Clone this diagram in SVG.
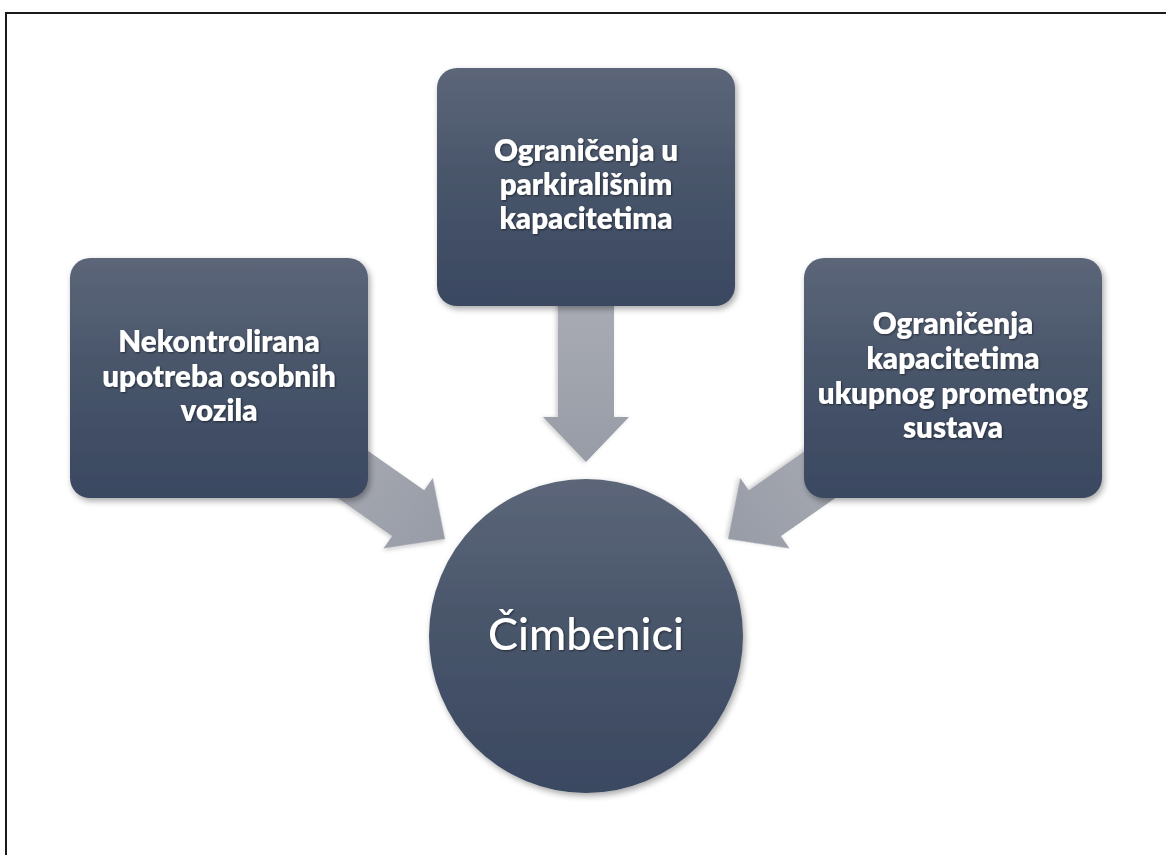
<svg xmlns="http://www.w3.org/2000/svg" width="1166" height="855" viewBox="0 0 1166 855">
  <defs>
    <linearGradient id="nodeGrad" x1="0" y1="0" x2="0" y2="1">
      <stop offset="0" stop-color="#5c6679"/>
      <stop offset="0.5" stop-color="#475469"/>
      <stop offset="1" stop-color="#3a4861"/>
    </linearGradient>
    <linearGradient id="arrowGrad" x1="0" y1="0" x2="1" y2="0">
      <stop offset="0" stop-color="#acafb7"/>
      <stop offset="1" stop-color="#989ca6"/>
    </linearGradient>
    <filter id="shadow" x="-20%" y="-20%" width="140%" height="140%">
      <feDropShadow dx="2" dy="3" stdDeviation="3" flood-color="#000" flood-opacity="0.35"/>
    </filter>
    <filter id="ashadow" x="-20%" y="-20%" width="140%" height="140%">
      <feDropShadow dx="1" dy="2" stdDeviation="2" flood-color="#000" flood-opacity="0.2"/>
    </filter>
    <filter id="tshadow" x="-10%" y="-20%" width="120%" height="140%">
      <feDropShadow dx="1" dy="1" stdDeviation="0.8" flood-color="#000" flood-opacity="0.5"/>
    </filter>
    <path id="arrowShape" d="M-200,-28 L-45,-28 L-45,-43 L0,0 L-45,43 L-45,28 L-200,28 Z"/>
  </defs>
  <style>
    .node { fill: url(#nodeGrad); filter: url(#shadow); }
    .arrow { fill: url(#arrowGrad); filter: url(#ashadow); }
    .lbl { font-family: Lato, "Open Sans", "Liberation Sans", sans-serif; font-weight: 800; font-size: 29.5px; fill: #ffffff; text-anchor: middle; filter: url(#tshadow); }
    .center { font-family: Lato, "Open Sans", "Liberation Sans", sans-serif; font-weight: 500; font-size: 45px; fill: #ffffff; text-anchor: middle; filter: url(#tshadow); }
  </style>
  <rect x="0" y="0" width="1166" height="855" fill="#ffffff"/>
  <rect x="6" y="13" width="1200" height="900" fill="none" stroke="#1a1a1a" stroke-width="2"/>

  <g id="connectors">
    <use href="#arrowShape" class="arrow" transform="translate(586,462) rotate(90)"/>
    <use href="#arrowShape" class="arrow" transform="translate(445,539) rotate(35)"/>
    <use href="#arrowShape" class="arrow" transform="translate(728,539) rotate(145)"/>
  </g>

  <g id="node-top">
    <rect class="node" x="437" y="68" width="298" height="238" rx="20" ry="20"/>
    <text class="lbl" x="586" y="161">Ograničenja u</text>
    <text class="lbl" x="586" y="195">parkirališnim</text>
    <text class="lbl" x="586" y="229">kapacitetima</text>
  </g>

  <g id="node-left">
    <rect class="node" x="70" y="258" width="298" height="240" rx="20" ry="20"/>
    <text class="lbl" x="219" y="352">Nekontrolirana</text>
    <text class="lbl" x="219" y="386.5">upotreba osobnih</text>
    <text class="lbl" x="219" y="421">vozila</text>
  </g>

  <g id="node-right">
    <rect class="node" x="804" y="258" width="298" height="240" rx="20" ry="20"/>
    <text class="lbl" x="953" y="334">Ograničenja</text>
    <text class="lbl" x="953" y="369">kapacitetima</text>
    <text class="lbl" x="953" y="403.5">ukupnog prometnog</text>
    <text class="lbl" x="953" y="438">sustava</text>
  </g>

  <g id="node-center">
    <circle class="node" cx="586" cy="636" r="157"/>
    <text class="center" x="586" y="650">Čimbenici</text>
  </g>
</svg>
